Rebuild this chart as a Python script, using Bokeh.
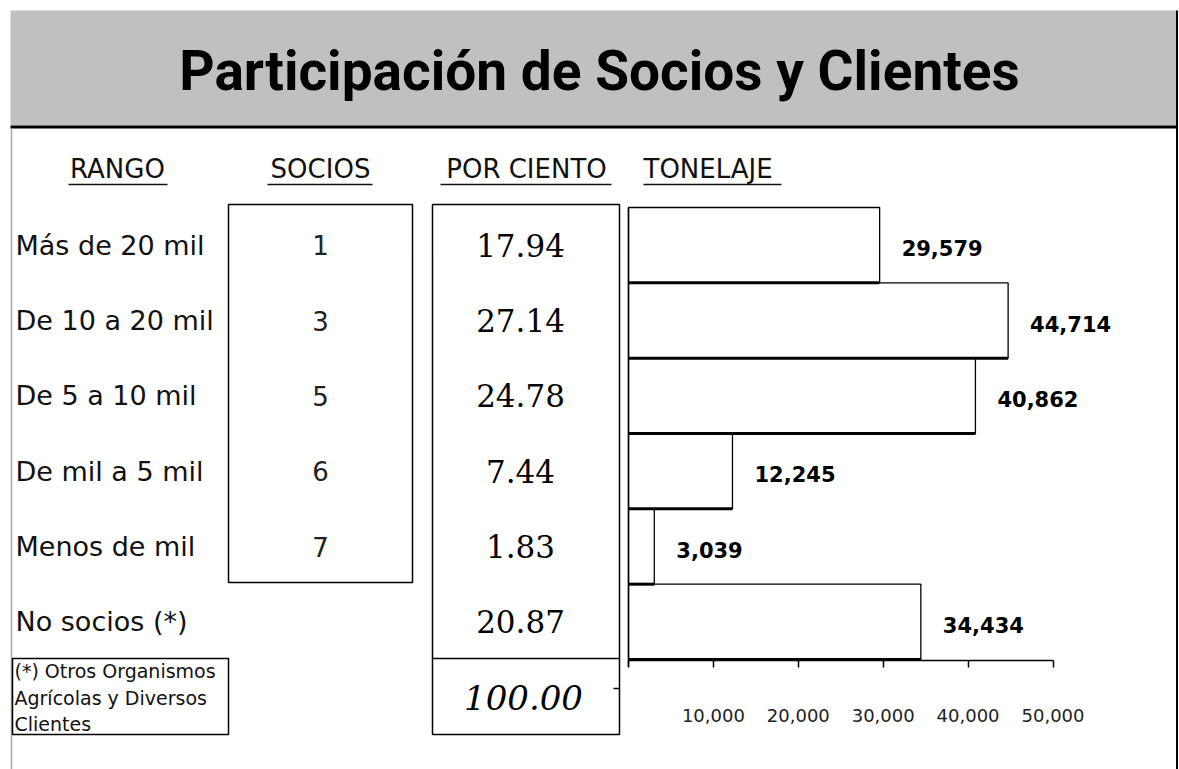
from bokeh.plotting import figure
from bokeh.models import Range1d, LinearAxis, FixedTicker, NumeralTickFormatter
from bokeh.core.properties import value
from bokeh.embed import file_html
from bokeh.resources import INLINE

# ---------------- data ----------------
title = "Participación de Socios y Clientes"
headers = ["RANGO", "SOCIOS", "POR CIENTO", "TONELAJE"]
rangos = ["Más de 20 mil", "De 10 a 20 mil", "De 5 a 10 mil",
          "De mil a 5 mil", "Menos de mil", "No socios (*)"]
socios = ["1", "3", "5", "6", "7"]
por_ciento = ["17.94", "27.14", "24.78", "7.44", "1.83", "20.87"]
total = "100.00"
tonelaje = [29579, 44714, 40862, 12245, 3039, 34434]
ton_ticks = [0, 10000, 20000, 30000, 40000, 50000]
nota = ["(*) Otros Organismos", "Agrícolas y Diversos", "Clientes"]

# ---------------- layout ----------------
W, H = 1179, 769
ROW_TOP, ROW_BOT = 207, 659
ROW_H = (ROW_BOT - ROW_TOP) / len(rangos)
row_y = [ROW_TOP + ROW_H * (i + 0.5) for i in range(len(rangos))]
row_bottom = [ROW_TOP + ROW_H * (i + 1) for i in range(len(rangos))]
AXIS_Y = 660
PX0 = 628.0          # pixel of tonelaje 0
PPU = 84.9 / 10000   # pixels per tonne

SANS = value("DejaVu Sans")
SERIF = value("DejaVu Serif")

p = figure(width=W, height=H, x_range=Range1d(0, W), y_range=Range1d(H, 0),
           x_axis_type=None, y_axis_type=None, toolbar_location=None,
           output_backend="svg", min_border=0, outline_line_color=None,
           background_fill_color="white", border_fill_color="white")
p.grid.visible = False
p.extra_x_ranges = {"ton": Range1d(-PX0 / PPU, (W - PX0) / PPU)}

# title band
p.quad(left=[10], right=[1177], top=[10], bottom=[125],
       fill_color="#c0c0c0", line_color=None)
p.segment(x0=[10], x1=[1177], y0=[126.5], y1=[126.5], line_color="black", line_width=3)
p.segment(x0=[1176.5], x1=[1176.5], y0=[10], y1=[H], line_color="black", line_width=2)
p.segment(x0=[11], x1=[11], y0=[128], y1=[H], line_color="#a8a8a8", line_width=1.5)
p.text(x=[599], y=[70], text=[title], text_font=value("Roboto"), text_font_style="bold",
       text_font_size="55px", text_align="center", text_baseline="middle", text_color="black")

# headers
hx = [117, 320, 526, 643]
halign = ["center", "center", "center", "left"]
for t, x, a in zip(headers, hx, halign):
    p.text(x=[x], y=[168], text=[t], text_font=SANS, text_font_size="26px",
           text_align=a, text_baseline="middle", text_color="#111111")
ul_x0 = [68, 267, 440, 643]
ul_x1 = [167, 372, 611, 781]
p.segment(x0=ul_x0, x1=ul_x1, y0=[184] * 4, y1=[184] * 4, line_color="#111111", line_width=1.5)

# row labels
p.text(x=[15] * len(rangos), y=row_y, text=rangos, text_font=SANS, text_font_size="27px",
       text_align="left", text_baseline="middle", text_color="#111111")

# socios box
p.quad(left=[228], right=[412], top=[204], bottom=[582], fill_color=None,
       line_color="black", line_width=1.5)
p.text(x=[320] * len(socios), y=row_y[:len(socios)], text=socios, text_font=SANS,
       text_font_size="26px", text_align="center", text_baseline="middle", text_color="#222222")

# por ciento box
p.quad(left=[432], right=[619], top=[204], bottom=[734], fill_color=None,
       line_color="black", line_width=1.5)
p.segment(x0=[432], x1=[619], y0=[658], y1=[658], line_color="black", line_width=1.5)
p.segment(x0=[613], x1=[619], y0=[688], y1=[688], line_color="black", line_width=1.5)
p.text(x=[520] * len(por_ciento), y=row_y, text=por_ciento, text_font=SERIF,
       text_font_size="31px", text_align="center", text_baseline="middle", text_color="black")
p.text(x=[523], y=[697], text=[total], text_font=SERIF, text_font_style="italic",
       text_font_size="34px", text_align="center", text_baseline="middle", text_color="black")

# footnote box
p.quad(left=[12], right=[228], top=[658], bottom=[734], fill_color="white",
       line_color="black", line_width=1.5)
p.text(x=[14] * len(nota), y=[670, 697, 723], text=nota, text_font=SANS,
       text_font_size="19px", text_align="left", text_baseline="middle", text_color="#111111")

# bars
p.hbar(y=row_y, height=ROW_H, left=0, right=tonelaje, x_range_name="ton",
       fill_color="white", line_color="black", line_width=1.3)
p.segment(x0=[0] * len(tonelaje), x1=tonelaje, y0=row_bottom, y1=row_bottom,
          x_range_name="ton", line_color="black", line_width=3)
p.segment(x0=[0], x1=[0], y0=[ROW_TOP], y1=[AXIS_Y + 6], x_range_name="ton",
          line_color="black", line_width=1.5)
p.text(x=tonelaje, y=[y + 3 for y in row_y], text=[f"{v:,}" for v in tonelaje],
       x_range_name="ton", x_offset=22, text_font=SANS, text_font_style="bold",
       text_font_size="21px", text_align="left", text_baseline="middle", text_color="black")

axis = LinearAxis(x_range_name="ton", fixed_location=AXIS_Y, bounds=(0, 50000),
                  ticker=FixedTicker(ticks=ton_ticks),
                  formatter=NumeralTickFormatter(format="0,0"),
                  major_label_overrides={0: ""})
axis.axis_line_color = "black"
axis.axis_line_width = 1.5
axis.major_tick_line_color = "black"
axis.major_tick_line_width = 1.5
axis.major_tick_out = 7
axis.major_tick_in = 0
axis.minor_tick_out = 0
axis.minor_tick_in = 0
axis.major_label_standoff = 41
axis.major_label_text_font = "DejaVu Sans"
axis.major_label_text_font_size = "18px"
axis.major_label_text_color = "#222222"
p.add_layout(axis, "below")

open("out.html", "w").write(file_html(p, INLINE))
